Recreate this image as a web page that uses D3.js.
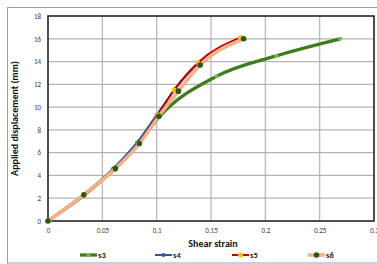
<!DOCTYPE html>
<html>
<head>
<meta charset="utf-8">
<script src="https://cdn.jsdelivr.net/npm/d3@7"></script>
<style>
  body { margin: 0; background: #fff; }
  text { font-family: Calibri, "Liberation Sans", Arial, sans-serif; }
</style>
</head>
<body>
<div id="chart"></div>
<script>
// data
var xTicks = [0, 0.05, 0.1, 0.15, 0.2, 0.25, 0.3];
var yTicks = [0, 2, 4, 6, 8, 10, 12, 14, 16, 18];
var seriesNames = ["s3", "s4", "s5", "s6"];

var s3Strain = [0, 0.033, 0.061, 0.083, 0.102, 0.155, 0.21, 0.269];
var s3Disp = [0, 2.3, 4.6, 6.8, 9.1, 12.7, 14.5, 16.0];
var s4Strain = [0, 0.033, 0.06, 0.082, 0.1, 0.117, 0.139, 0.178];
var s4Disp = [0, 2.3, 4.6, 6.9, 9.3, 11.6, 13.9, 16.1];
var s5Strain = [0, 0.033, 0.061, 0.083, 0.101, 0.116, 0.138, 0.177];
var s5Disp = [0, 2.2, 4.5, 6.8, 9.3, 11.5, 13.9, 16.1];
var s6Strain = [0, 0.033, 0.062, 0.084, 0.102, 0.12, 0.14, 0.18];
var s6Disp = [0, 2.3, 4.6, 6.8, 9.2, 11.4, 13.7, 16.0];

var svgWidth = 377;
var svgHeight = 264;
var margin = { top: 16, right: 3, bottom: 43, left: 48 };
var width = svgWidth - margin.left - margin.right;
var height = svgHeight - margin.top - margin.bottom;

var svg = d3.select("#chart").append("svg")
  .attr("width", svgWidth)
  .attr("height", svgHeight);

// outer chart frame
svg.append("rect")
  .attr("x", 7.5).attr("y", 7.5)
  .attr("width", 372).attr("height", 255.5)
  .attr("fill", "none")
  .attr("stroke", "#7ea6d2")
  .attr("stroke-width", 1);

var chartGroup = svg.append("g")
  .attr("transform", `translate(${margin.left}, ${margin.top})`);

var xScale = d3.scaleLinear().domain([0, 0.3]).range([0, width]);
var yScale = d3.scaleLinear().domain([0, 18]).range([height, 0]);

// gridlines
chartGroup.append("g").selectAll("line").data(xTicks).enter().append("line")
  .attr("x1", d => xScale(d)).attr("x2", d => xScale(d))
  .attr("y1", 0).attr("y2", height)
  .attr("stroke", "#b3b3b3").attr("stroke-width", 1.2);
chartGroup.append("g").selectAll("line").data(yTicks).enter().append("line")
  .attr("x1", 0).attr("x2", width)
  .attr("y1", d => yScale(d)).attr("y2", d => yScale(d))
  .attr("stroke", "#b3b3b3").attr("stroke-width", 1.2);

// plot border
chartGroup.append("rect")
  .attr("width", width).attr("height", height)
  .attr("fill", "none")
  .attr("stroke", "#222").attr("stroke-width", 1.5);

// axes (labels only)
var bottomAxis = d3.axisBottom(xScale).tickValues(xTicks).tickSize(0).tickPadding(7)
  .tickFormat(d => d === 0 ? "0" : d3.format("")(d));
var leftAxis = d3.axisLeft(yScale).tickValues(yTicks).tickSize(0).tickPadding(7);

var xAxis = chartGroup.append("g")
  .attr("transform", `translate(0, ${height})`)
  .call(bottomAxis);
var yAxis = chartGroup.append("g").call(leftAxis);
[xAxis, yAxis].forEach(function (ax) {
  ax.select(".domain").remove();
  ax.selectAll("text").attr("font-size", 7).attr("fill", "#404040")
    .attr("font-family", "Calibri, 'Liberation Sans', Arial, sans-serif");
});

// axis titles
chartGroup.append("text")
  .attr("transform", "rotate(-90)")
  .attr("x", -height / 2)
  .attr("y", -30)
  .attr("text-anchor", "middle")
  .attr("font-size", 10)
  .attr("font-weight", "bold")
  .attr("fill", "#111")
  .text("Applied displacement (mm)");

chartGroup.append("text")
  .attr("x", width / 2 + 2)
  .attr("y", height + 26)
  .attr("text-anchor", "middle")
  .attr("font-size", 10)
  .attr("font-weight", "bold")
  .attr("fill", "#111")
  .text("Shear strain");

// series
var series = [
  { name: "s3", x: s3Strain, y: s3Disp, line: "#3d7c1f", width: 3.3, marker: "#7dbb4e", r: 2 },
  { name: "s4", x: s4Strain, y: s4Disp, line: "#2557a7", width: 2, marker: "#2557a7", r: 2 },
  { name: "s5", x: s5Strain, y: s5Disp, line: "#c00000", width: 2, marker: "#ffc000", r: 2.5 },
  { name: "s6", x: s6Strain, y: s6Disp, line: "#f4b183", width: 3.5, marker: "#2a5a12", r: 2.8 }
];

var line = d3.line()
  .x(d => xScale(d[0]))
  .y(d => yScale(d[1]))
  .curve(d3.curveMonotoneX);

series.forEach(function (s) {
  var pts = s.x.map((v, i) => [v, s.y[i]]);
  chartGroup.append("path")
    .datum(pts)
    .attr("d", line)
    .attr("fill", "none")
    .attr("stroke", s.line)
    .attr("stroke-width", s.width);
  chartGroup.append("g").selectAll("circle").data(pts).enter().append("circle")
    .attr("cx", d => xScale(d[0]))
    .attr("cy", d => yScale(d[1]))
    .attr("r", s.r)
    .attr("fill", s.marker);
});

// legend
var legendX = [80, 155, 232, 308];
var legend = svg.append("g");
series.forEach(function (s, i) {
  var g = legend.append("g").attr("transform", `translate(${legendX[i]}, 255)`);
  g.append("line").attr("x1", 0).attr("x2", 17).attr("y1", 0).attr("y2", 0)
    .attr("stroke", s.line).attr("stroke-width", s.width);
  g.append("circle").attr("cx", 8.5).attr("cy", 0).attr("r", s.r).attr("fill", s.marker);
  g.append("text").attr("x", 18).attr("y", 3)
    .attr("font-size", 8.5).attr("font-weight", "bold").attr("fill", "#222")
    .text(seriesNames[i]);
});
</script>
</body>
</html>
